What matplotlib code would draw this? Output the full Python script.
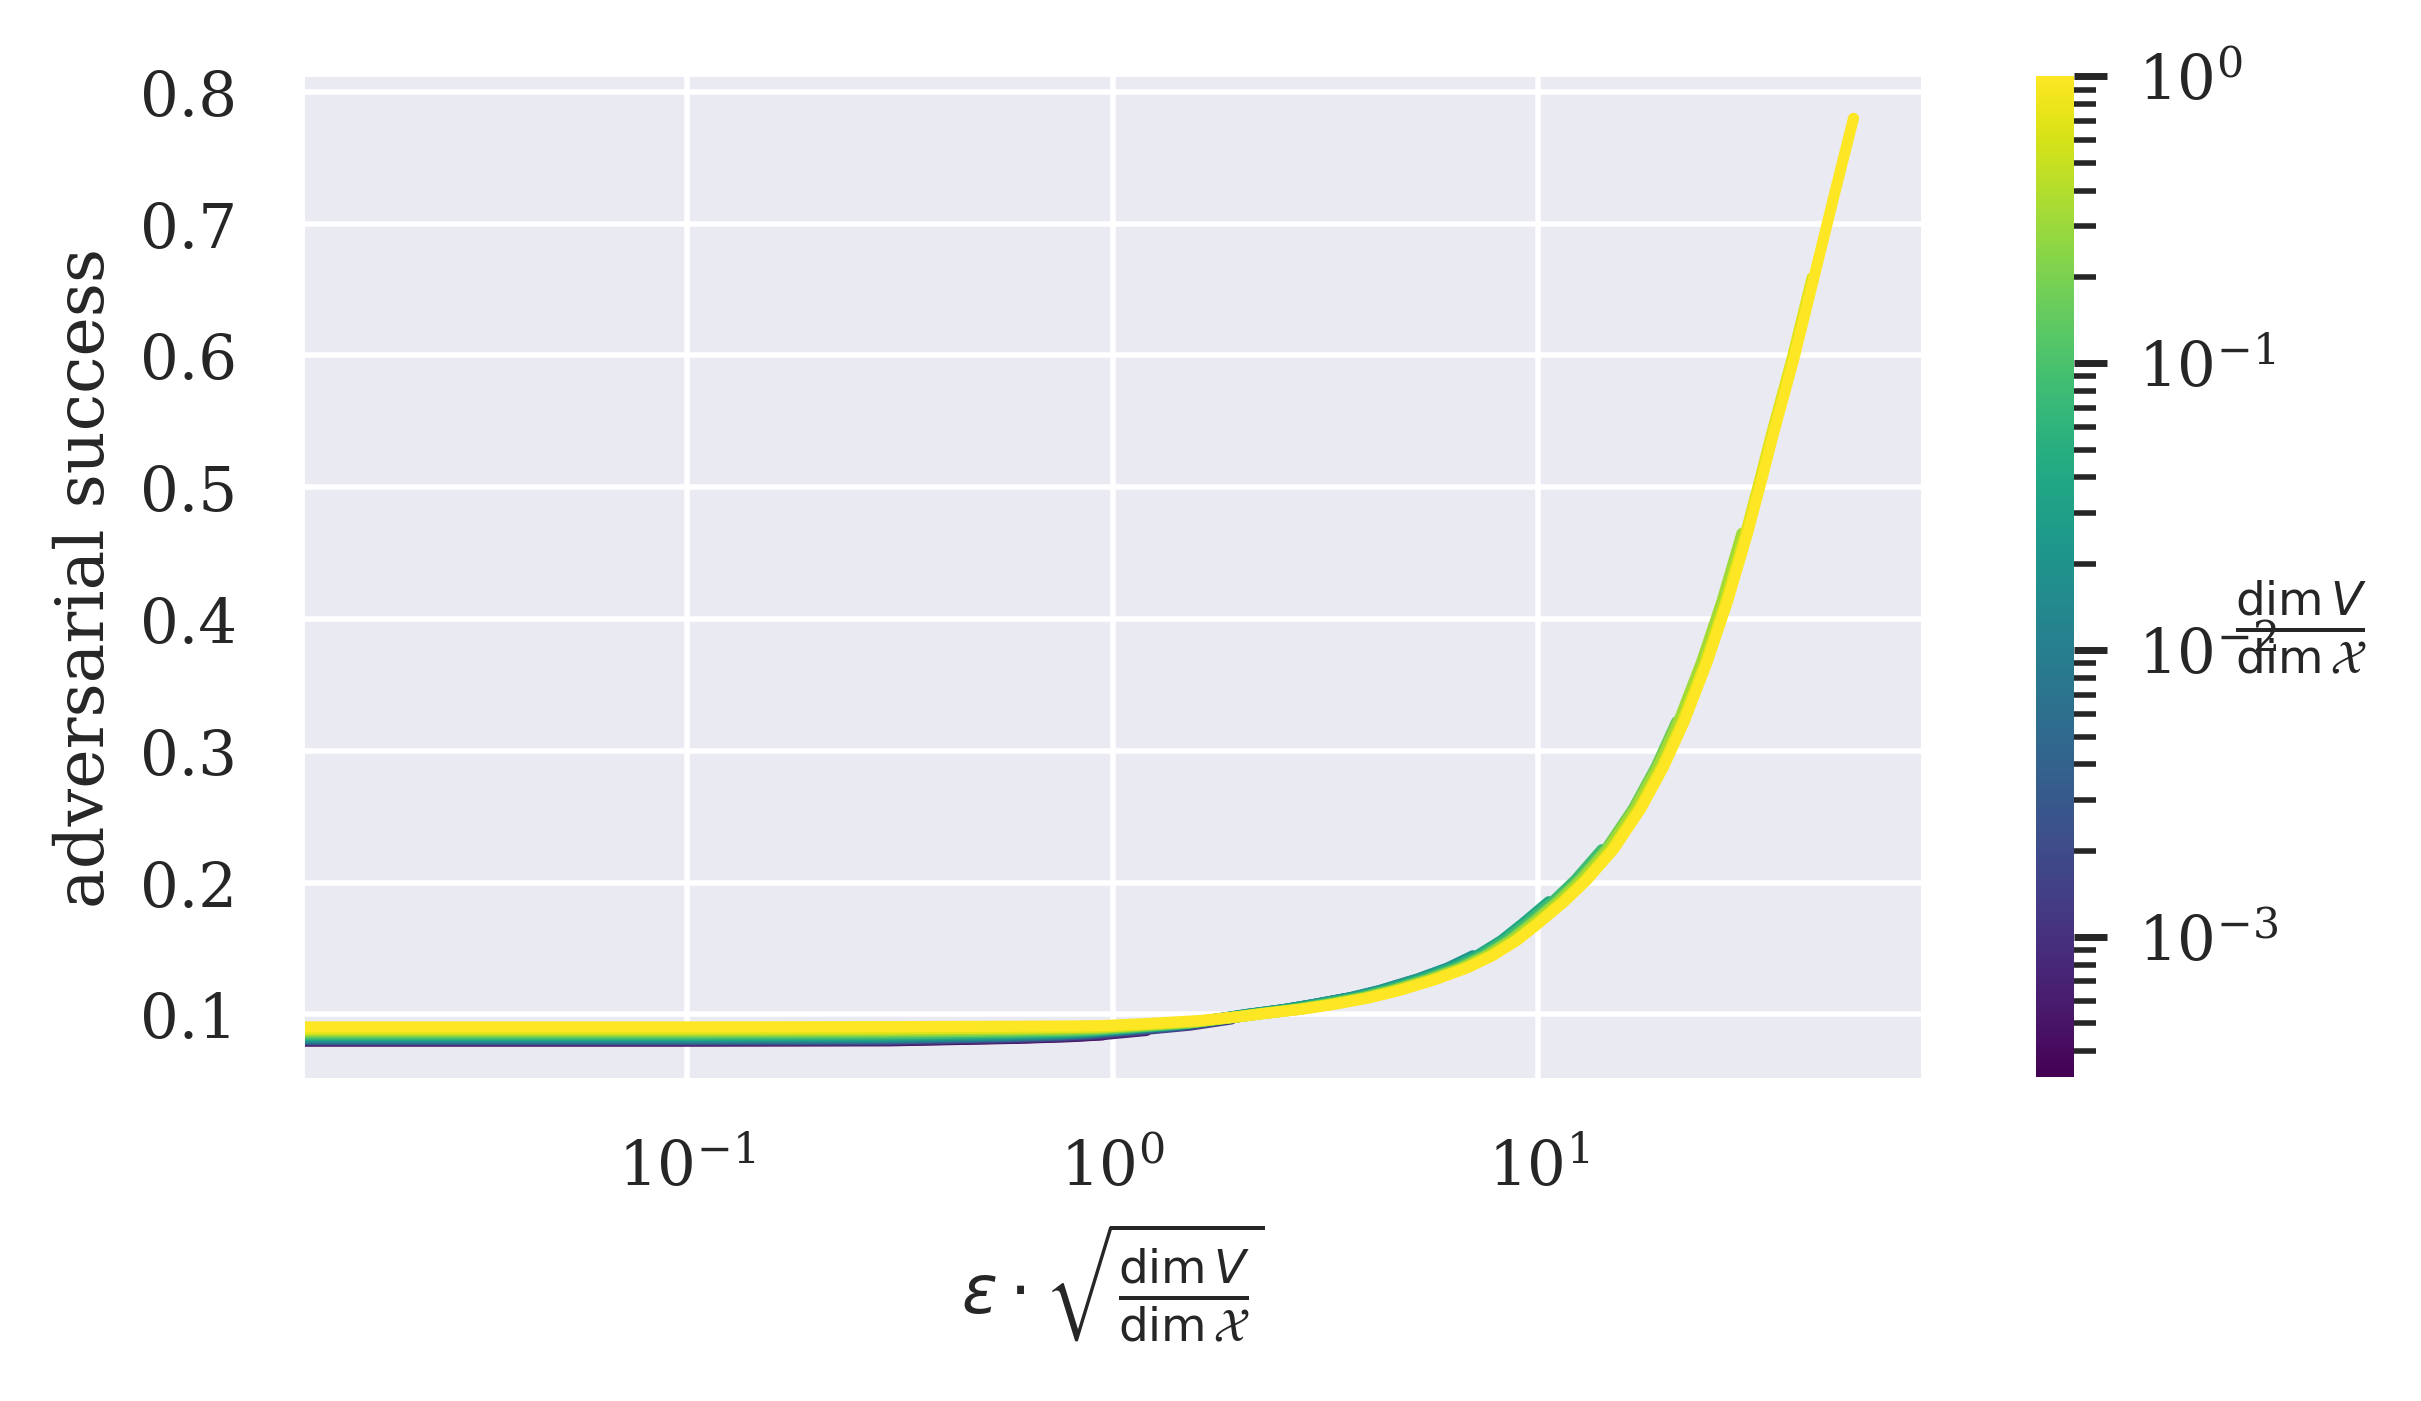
import numpy as np
import matplotlib
matplotlib.use('Agg')
import matplotlib.pyplot as plt
import seaborn as sns
from matplotlib.colors import LogNorm
from matplotlib.cm import ScalarMappable

# ---------------- data ----------------
dim_X = 3072
dim_V = [1, 2, 4, 8, 16, 32, 64, 128, 256, 512, 1024, 2048, 3072]
eps_max = 55.0

# common curve (the dim V = dim X curve), x = eps * sqrt(dimV/dimX)
x_master = [0.012, 0.03, 0.1, 0.3, 0.6, 0.8, 0.95, 1.2, 1.6, 2.0, 2.3, 2.8,
            3.3, 4.0, 4.7, 5.7, 6.8, 7.8, 8.9, 10.0, 11.5, 13.0, 15.0, 17.4,
            19.7, 22.0, 24.9, 27.8, 31.0, 33.3, 35.7, 39.8, 44.4, 49.4, 55.0]
y_master = [0.0905, 0.0905, 0.0905, 0.0907, 0.0910, 0.0912, 0.0915, 0.0930,
            0.0953, 0.0985, 0.1009, 0.1040, 0.1075, 0.1125, 0.1180, 0.1262,
            0.1352, 0.1445, 0.1560, 0.1690, 0.1855, 0.2020, 0.2250, 0.2560,
            0.2880, 0.3220, 0.3670, 0.4130, 0.4650, 0.5030, 0.5410, 0.5970,
            0.6590, 0.7200, 0.7800]
# how strongly the per-curve plateau level applies along the curve
plateau_weight = [1, 1, 1, 1, 0.85, 0.75, 0.65, 0.5, 0.35, 0.2, 0.12, 0.05,
                  0, 0, 0, 0, 0, 0, 0, 0, 0, 0, 0, 0, 0, 0, 0, 0, 0, 0, 0, 0,
                  0, 0, 0]
plateau_level = [0.0797, 0.0800, 0.0805, 0.0810, 0.0815, 0.0822, 0.0830,
                 0.0840, 0.0850, 0.0862, 0.0875, 0.0888, 0.0905]
x_shift = [1.0, 1.0, 0.95, 0.92, 0.90, 0.90, 0.90, 0.92, 0.94, 0.96, 0.97,
           0.99, 1.0]

# ---------------- style ----------------
sns.set_theme(style='darkgrid', context='notebook')
plt.rcParams['font.family'] = ['serif']
plt.rcParams['font.serif'] = ['DejaVu Serif']
plt.rcParams['ytick.major.pad'] = 5.5
plt.rcParams['xtick.major.pad'] = 4.3

DPI = 400
fig = plt.figure(figsize=((2421 + 0.5) / DPI, (1401 + 0.5) / DPI), dpi=DPI)
ax = fig.add_axes([0.1243, 0.2284, 0.6704, 0.7188])
cax = fig.add_axes([0.8406, 0.2313, 0.0161, 0.7138])

norm = LogNorm(vmin=1 / dim_X, vmax=1)
cmap = plt.get_cmap('viridis')

xm = np.array(x_master)
ym = np.array(y_master)
wm = np.array(plateau_weight)
for k, lev, s in zip(dim_V, plateau_level, x_shift):
    r = k / dim_X
    xs = xm * s
    ys = ym + (lev - y_master[0]) * wm
    keep = xs <= eps_max * np.sqrt(r)
    ax.plot(xs[keep], ys[keep], color=cmap(norm(r)), lw=2.0)

ax.set_xscale('log')
ax.set_xlim(0.01239, 80.7)
ax.set_ylim(0.0495, 0.814)
ax.set_ylabel('adversarial success')
ax.set_xlabel(r'$\varepsilon \cdot \sqrt{\frac{\dim V}{\dim \mathcal{X}}}$')

cb = fig.colorbar(ScalarMappable(norm=norm, cmap=cmap), cax=cax)
cb.set_label(r'$\frac{\dim V}{\dim \mathcal{X}}$', rotation=0)
cb.outline.set_visible(False)
cb.minorticks_on()

fig.savefig('out.png', dpi=DPI)
